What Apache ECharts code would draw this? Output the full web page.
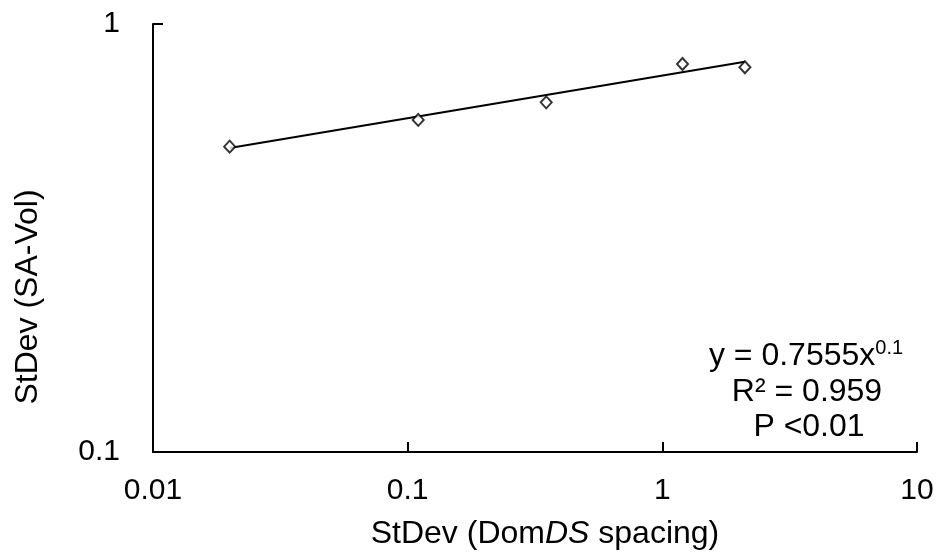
<!DOCTYPE html>
<html>
<head>
<meta charset="utf-8">
<script src="https://cdn.jsdelivr.net/npm/echarts@6/dist/echarts.min.js"></script>
<style>
  html, body { margin: 0; padding: 0; background: #fff; }
  #graph01 { width: 938px; height: 552px; }
</style>
</head>
<body>
<div id="graph01"></div>
<script>
// values (log-log)
var xVals = [0.02, 0.11, 0.35, 1.2, 2.11];
var yVals = [0.517, 0.597, 0.656, 0.806, 0.792];
// power trendline, drawn between its two end points
var trendX = [0.02, 2.11];
var trendY = [0.513, 0.816];
var xTicks = ['0.01', '0.1', '1', '10'];
var yTicks = ['0.1', '1'];
var eqLines = ['y = 0.7555x', '0.1', 'R\u00b2 = 0.959', 'P <0.01'];

var FONT = '"Liberation Sans", Arial, sans-serif';
var points = xVals.map(function (x, i) { return [x, yVals[i]]; });
var trend = trendX.map(function (x, i) { return [x, trendY[i]]; });

var myChart = echarts.init(document.getElementById('graph01'));
var option = {
    animation: false,
    backgroundColor: '#fff',
    textStyle: { fontFamily: FONT, color: '#000' },
    grid: { left: 153, right: 21, top: 24, bottom: 100 },
    xAxis: {
        type: 'log',
        logBase: 10,
        min: 0.01,
        max: 10,
        axisLine: { lineStyle: { color: '#000', width: 2 } },
        axisTick: { inside: true, length: 10, lineStyle: { color: '#000', width: 2 } },
        axisLabel: {
            margin: 24,
            fontSize: 30,
            color: '#000',
            fontFamily: FONT,
            formatter: function (v) {
                return xTicks[Math.round(Math.log10(v)) + 2];
            }
        },
        splitLine: { show: false }
    },
    yAxis: {
        type: 'log',
        logBase: 10,
        min: 0.1,
        max: 1,
        axisLine: { lineStyle: { color: '#000', width: 2 } },
        axisTick: { inside: true, length: 10, lineStyle: { color: '#000', width: 2 } },
        axisLabel: {
            margin: 33,
            fontSize: 30,
            color: '#000',
            fontFamily: FONT,
            formatter: function (v) {
                return yTicks[Math.round(Math.log10(v)) + 1];
            }
        },
        splitLine: { show: false }
    },
    series: [
        {
            name: 'Trend',
            type: 'line',
            data: trend,
            showSymbol: false,
            symbol: 'none',
            lineStyle: { color: '#000', width: 2 },
            z: 2
        },
        {
            name: 'StDev',
            type: 'scatter',
            data: points,
            symbol: 'diamond',
            symbolSize: [11, 12],
            itemStyle: { color: '#fff', borderColor: '#000', borderWidth: 2 },
            z: 3
        }
    ],
    graphic: [
        // axis titles
        {
            type: 'text',
            x: 545,
            y: 534,
            style: {
                text: '{n|StDev (Dom}{i|DS}{n| spacing)}',
                align: 'center',
                verticalAlign: 'middle',
                rich: {
                    n: { fontSize: 32, fontFamily: FONT, fill: '#000' },
                    i: { fontSize: 32, fontFamily: FONT, fill: '#000', fontStyle: 'italic' }
                }
            }
        },
        {
            type: 'text',
            x: 28,
            y: 297,
            rotation: Math.PI / 2,
            style: {
                text: 'StDev (SA-Vol)',
                fontSize: 32,
                fontFamily: FONT,
                fill: '#000',
                align: 'center',
                verticalAlign: 'middle'
            }
        },
        // trendline equation
        {
            type: 'text',
            x: 806,
            y: 356,
            style: {
                text: '{a|' + eqLines[0] + '}{s|' + eqLines[1] + '}',
                align: 'center',
                verticalAlign: 'middle',
                rich: {
                    a: { fontSize: 32, fontFamily: FONT, fill: '#000', lineHeight: 36 },
                    s: { fontSize: 20, fontFamily: FONT, fill: '#000', verticalAlign: 'top', lineHeight: 24 }
                }
            }
        },
        {
            type: 'text',
            x: 807,
            y: 392,
            style: {
                text: eqLines[2],
                fontSize: 32,
                fontFamily: FONT,
                fill: '#000',
                align: 'center',
                verticalAlign: 'middle'
            }
        },
        {
            type: 'text',
            x: 809,
            y: 427,
            style: {
                text: eqLines[3],
                fontSize: 32,
                fontFamily: FONT,
                fill: '#000',
                align: 'center',
                verticalAlign: 'middle'
            }
        }
    ]
};
myChart.setOption(option);
</script>
</body>
</html>
